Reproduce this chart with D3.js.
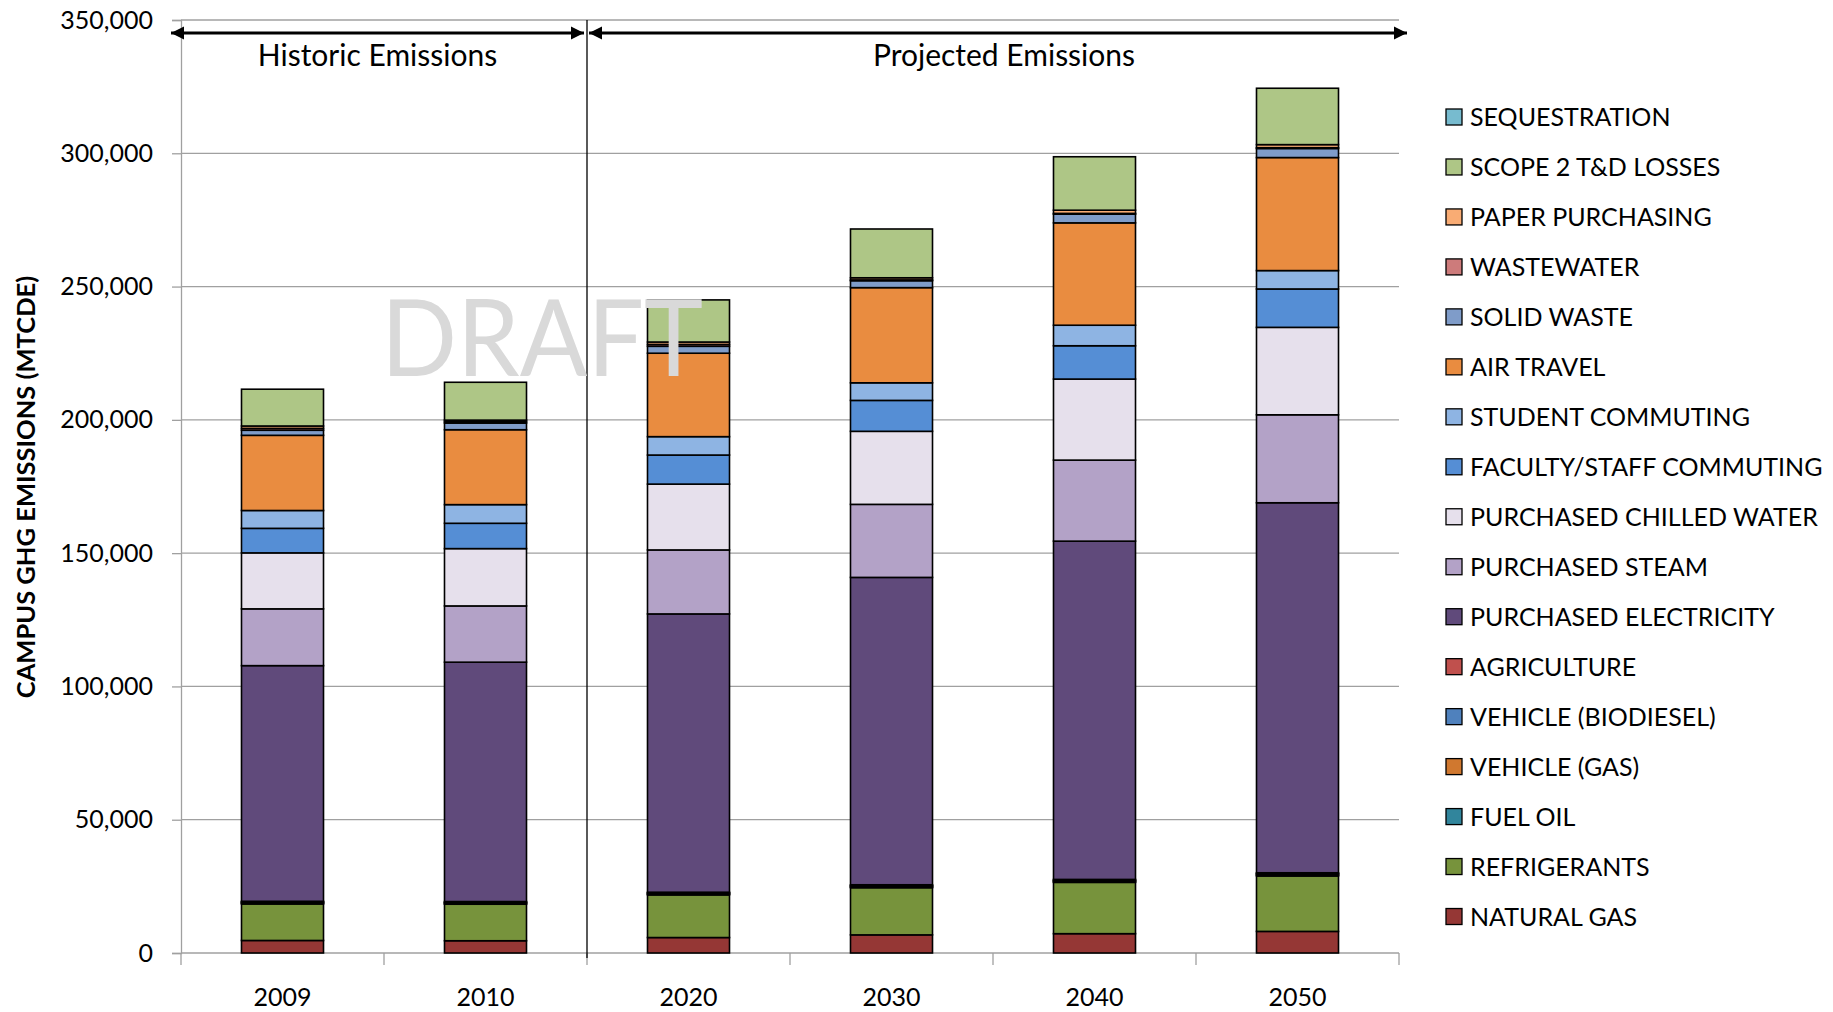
<!DOCTYPE html>
<html>
<head>
<meta charset="utf-8">
<script src="https://cdn.jsdelivr.net/npm/d3@7"></script>
<style>
  html, body { margin: 0; padding: 0; background: #ffffff; }
  svg text { font-family: Lato, "Open Sans", "DejaVu Sans", sans-serif; fill: #000; }
</style>
</head>
<body>
<svg id="chart" width="1833" height="1012"></svg>
<script>
// ---- data (metric tons CO2e) ----
const years = ["2009", "2010", "2020", "2030", "2040", "2050"];
const periods = ["Historic Emissions", "Projected Emissions"];
const periodYears = [["2009", "2010"], ["2020", "2030", "2040", "2050"]];
const yTicks = [0, 50000, 100000, 150000, 200000, 250000, 300000, 350000];

const naturalGas        = [4700, 4600, 5800, 6800, 7250, 8100];
const refrigerants      = [13700, 13700, 16000, 17700, 19250, 20800];
const fuelOil           = [250, 250, 250, 250, 250, 300];
const vehicleGas        = [300, 300, 300, 350, 350, 400];
const vehicleBiodiesel  = [150, 150, 150, 150, 150, 150];
const agriculture       = [300, 300, 300, 350, 350, 350];
const purchElectricity  = [88400, 89800, 104400, 115300, 126900, 138800];
const purchSteam        = [21300, 21100, 24000, 27400, 30400, 33000];
const purchChilledWater = [21000, 21500, 24700, 27400, 30400, 32800];
const facultyCommuting  = [9200, 9500, 10900, 11600, 12500, 14400];
const studentCommuting  = [6700, 7000, 6900, 6600, 7700, 6900];
const airTravel         = [28200, 28100, 31300, 35700, 38400, 42400];
const solidWaste        = [1900, 2500, 2600, 2600, 3250, 3400];
const wastewater        = [700, 500, 700, 300, 300, 300];
const paperPurchasing   = [900, 600, 900, 800, 1200, 1150];
const scope2Losses      = [13800, 14200, 15800, 18300, 20050, 21150];
const sequestration     = [0, 0, 0, 0, 0, 0];

// stacking order, bottom to top
const seriesNames = [
  "NATURAL GAS", "REFRIGERANTS", "FUEL OIL", "VEHICLE (GAS)", "VEHICLE (BIODIESEL)",
  "AGRICULTURE", "PURCHASED ELECTRICITY", "PURCHASED STEAM", "PURCHASED CHILLED WATER",
  "FACULTY/STAFF COMMUTING", "STUDENT COMMUTING", "AIR TRAVEL", "SOLID WASTE",
  "WASTEWATER", "PAPER PURCHASING", "SCOPE 2 T&D LOSSES", "SEQUESTRATION"
];
const seriesValues = [
  naturalGas, refrigerants, fuelOil, vehicleGas, vehicleBiodiesel, agriculture,
  purchElectricity, purchSteam, purchChilledWater, facultyCommuting, studentCommuting,
  airTravel, solidWaste, wastewater, paperPurchasing, scope2Losses, sequestration
];
const seriesColors = [
  "#953735", "#77933C", "#31859C", "#D0782F", "#4F81BD", "#C0504D", "#604A7B",
  "#B3A2C7", "#E6E0EC", "#558ED5", "#8EB4E3", "#E98C40", "#7F9CC9", "#CD7B7B",
  "#F9AC74", "#AEC686", "#77BBCF"
];

// ---- layout ----
const svg = d3.select("#chart");
const plotLeft = 181, plotRight = 1399, plotTop = 20, plotBottom = 953;

const x = d3.scaleBand().domain(years).range([plotLeft, plotRight])
  .paddingInner(0.596).paddingOuter(0.298);
const y = d3.scaleLinear().domain([0, 350000]).range([plotBottom, plotTop]);
const color = d3.scaleOrdinal().domain(seriesNames).range(seriesColors);

// table for d3.stack
const table = years.map((yr, i) => {
  const row = { year: yr };
  seriesNames.forEach((n, k) => { row[n] = seriesValues[k][i]; });
  return row;
});
const stacked = d3.stack().keys(seriesNames)(table);

// gridlines
svg.append("g").selectAll("line")
  .data(yTicks.filter(d => d > 0))
  .join("line")
  .attr("x1", plotLeft).attr("x2", plotRight)
  .attr("y1", d => y(d)).attr("y2", d => y(d))
  .attr("stroke", "#A0A0A0").attr("stroke-width", 1.3);

// y axis
const yAxis = svg.append("g")
  .attr("transform", `translate(${plotLeft},0)`)
  .call(d3.axisLeft(y).tickValues(yTicks).tickFormat(d3.format(",")).tickSize(9).tickPadding(19));
yAxis.select(".domain").attr("stroke", "#A0A0A0").attr("stroke-width", 1.3);
yAxis.selectAll(".tick line").attr("stroke", "#A0A0A0").attr("stroke-width", 1.3);
yAxis.selectAll(".tick text").attr("font-size", 25)
  .style("font-family", "Lato, 'Open Sans', sans-serif").attr("fill", "#000");

// y axis title
svg.append("text")
  .attr("transform", "translate(35,487) rotate(-90)")
  .attr("text-anchor", "middle")
  .attr("font-size", 25.5).attr("font-weight", "bold")
  .text("CAMPUS GHG EMISSIONS (MTCDE)");

// x axis baseline and category separators
const step = x.step();
const boundaries = d3.range(years.length + 1).map(i => plotLeft + i * step);
svg.append("line")
  .attr("x1", plotLeft).attr("x2", plotRight).attr("y1", y(0)).attr("y2", y(0))
  .attr("stroke", "#A0A0A0").attr("stroke-width", 1.3);
svg.append("g").selectAll("line")
  .data(boundaries)
  .join("line")
  .attr("x1", d => d).attr("x2", d => d)
  .attr("y1", y(0)).attr("y2", y(0) + 12)
  .attr("stroke", "#A0A0A0").attr("stroke-width", 1.3);

svg.append("g").selectAll("text")
  .data(years)
  .join("text")
  .attr("x", d => x(d) + x.bandwidth() / 2)
  .attr("y", 1006)
  .attr("text-anchor", "middle")
  .attr("font-size", 25)
  .text(d => d);

// stacked bars
svg.append("g").selectAll("g")
  .data(stacked)
  .join("g")
  .attr("fill", d => color(d.key))
  .selectAll("rect")
  .data(d => d.filter(s => s[1] - s[0] > 0))
  .join("rect")
  .attr("x", d => x(d.data.year))
  .attr("width", x.bandwidth())
  .attr("y", d => y(d[1]))
  .attr("height", d => y(d[0]) - y(d[1]))
  .attr("stroke", "#000").attr("stroke-width", 1.6);

// period divider
const dividerX = x(periodYears[1][0]) - x.step() * x.paddingInner() / 2;
svg.append("line")
  .attr("x1", dividerX).attr("x2", dividerX)
  .attr("y1", plotTop).attr("y2", y(0) + 5)
  .attr("stroke", "#000").attr("stroke-width", 1.3);

// period arrows with labels
const defs = svg.append("defs");
defs.append("marker").attr("id", "arrowEnd")
  .attr("viewBox", "0 0 10 10").attr("refX", 10).attr("refY", 5)
  .attr("markerWidth", 4.2).attr("markerHeight", 4.2).attr("orient", "auto")
  .attr("markerUnits", "strokeWidth")
  .append("path").attr("d", "M0,0 L10,5 L0,10 Z").attr("fill", "#000");
defs.append("marker").attr("id", "arrowStart")
  .attr("viewBox", "0 0 10 10").attr("refX", 0).attr("refY", 5)
  .attr("markerWidth", 4.2).attr("markerHeight", 4.2).attr("orient", "auto")
  .attr("markerUnits", "strokeWidth")
  .append("path").attr("d", "M10,0 L0,5 L10,10 Z").attr("fill", "#000");

const spans = [
  [plotLeft - 10, dividerX - 3],
  [dividerX + 2, plotRight + 8]
];
const arrowY = 33;
periods.forEach((p, i) => {
  const [a, b] = spans[i];
  svg.append("line")
    .attr("x1", a).attr("x2", b).attr("y1", arrowY).attr("y2", arrowY)
    .attr("stroke", "#000").attr("stroke-width", 3.2)
    .attr("marker-start", "url(#arrowStart)")
    .attr("marker-end", "url(#arrowEnd)");
  svg.append("text")
    .attr("x", (a + b) / 2 + (i === 1 ? 6 : 0))
    .attr("y", 66)
    .attr("text-anchor", "middle")
    .attr("font-size", 30)
    .text(p);
});

// watermark
svg.append("text")
  .attr("x", 381).attr("y", 376)
  .attr("font-size", 106)
  .attr("textLength", 322)
  .attr("lengthAdjust", "spacingAndGlyphs")
  .style("fill", "#D9D9D9")
  .text("DRAFT");

// legend (reverse of stacking order)
const legendRows = seriesNames.slice().reverse();
const legend = svg.append("g").selectAll("g")
  .data(legendRows)
  .join("g")
  .attr("transform", (d, i) => `translate(1446,${117 + i * 49.97})`);
legend.append("rect")
  .attr("x", 0).attr("y", -8).attr("width", 16).attr("height", 16)
  .attr("fill", d => color(d)).attr("stroke", "#000").attr("stroke-width", 1.3);
legend.append("text")
  .attr("x", 24).attr("y", 9)
  .attr("font-size", 25)
  .text(d => d);
</script>
</body>
</html>
